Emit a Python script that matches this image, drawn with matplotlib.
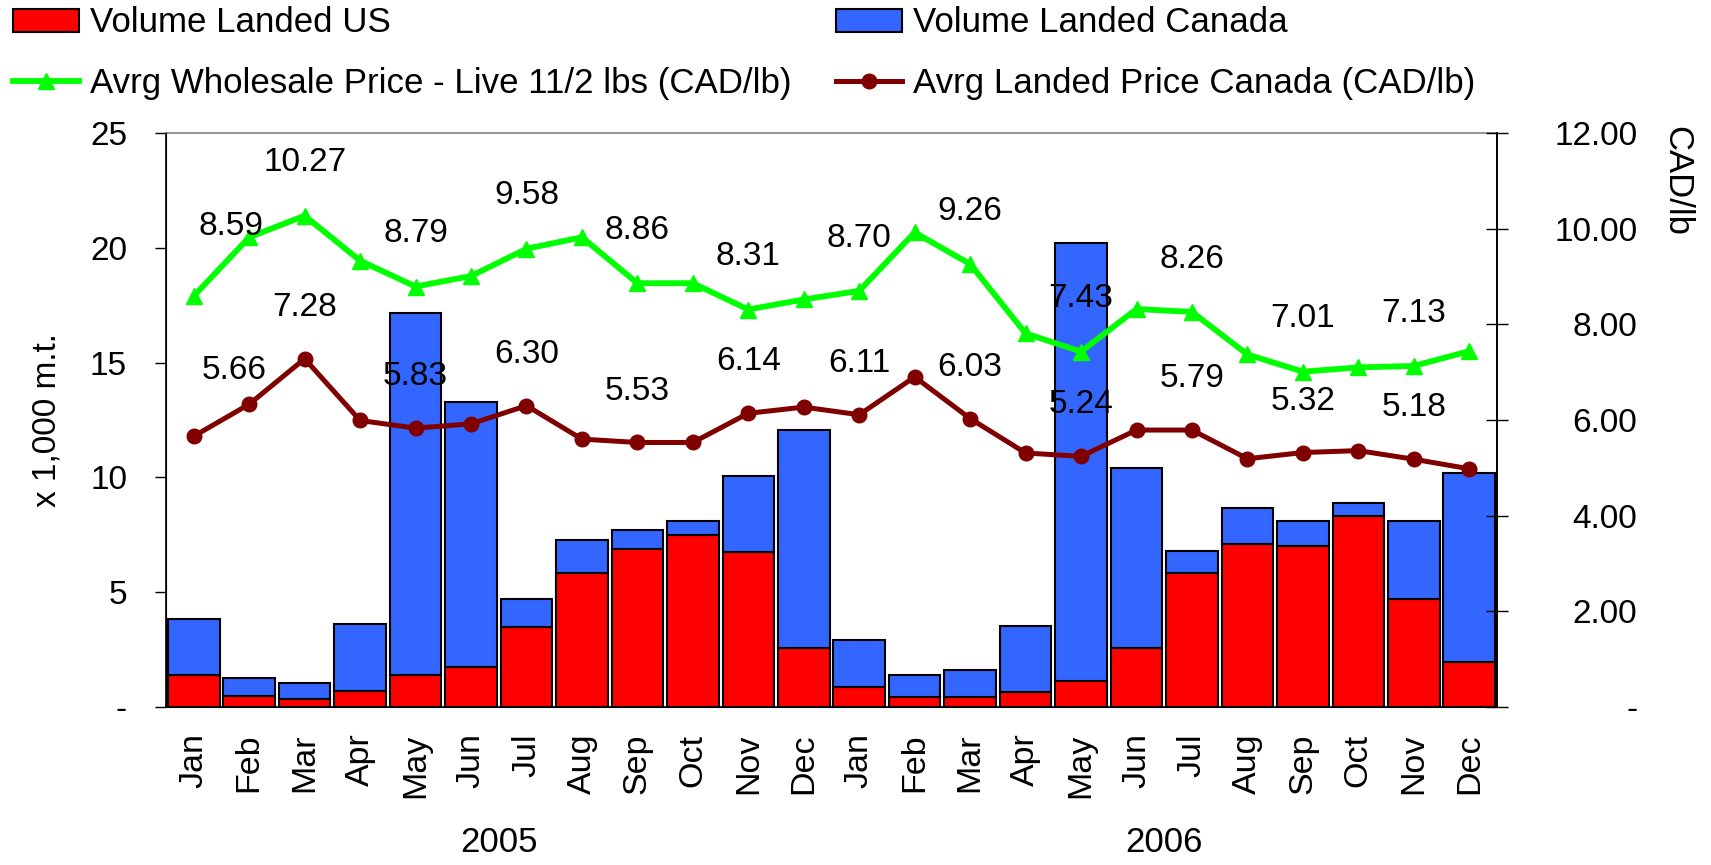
import matplotlib
matplotlib.use("Agg")
import matplotlib.pyplot as plt
from matplotlib.patches import Patch
from matplotlib.lines import Line2D
from matplotlib.transforms import blended_transform_factory
import numpy as np

plt.rcParams['font.family'] = ['Liberation Sans', 'DejaVu Sans']

months = ["Jan", "Feb", "Mar", "Apr", "May", "Jun", "Jul", "Aug", "Sep", "Oct", "Nov", "Dec"] * 2
years = ["2005", "2006"]

volume_us = [1.40, 0.47, 0.34, 0.70, 1.40, 1.75, 3.50, 5.85, 6.90, 7.48, 6.77, 2.58,
             0.89, 0.45, 0.45, 0.67, 1.13, 2.56, 5.83, 7.12, 7.00, 8.30, 4.69, 1.98]
volume_canada = [2.45, 0.81, 0.71, 2.92, 15.74, 11.52, 1.19, 1.42, 0.82, 0.61, 3.31, 9.50,
                 2.02, 0.93, 1.16, 2.84, 19.06, 7.86, 0.95, 1.54, 1.08, 0.60, 3.39, 8.19]
wholesale_price = [8.59, 9.82, 10.27, 9.33, 8.79, 9.01, 9.58, 9.82, 8.86, 8.86, 8.31, 8.52,
                   8.70, 9.92, 9.26, 7.81, 7.43, 8.32, 8.26, 7.37, 7.01, 7.10, 7.13, 7.44]
landed_price = [5.66, 6.33, 7.28, 5.99, 5.83, 5.92, 6.30, 5.60, 5.53, 5.53, 6.14, 6.27,
                6.11, 6.90, 6.03, 5.31, 5.24, 5.79, 5.79, 5.19, 5.32, 5.36, 5.18, 4.98]

vol_ticks = [0, 5, 10, 15, 20, 25]
vol_ticklabels = ["-", "5", "10", "15", "20", "25"]
price_ticks = [0, 2, 4, 6, 8, 10, 12]
price_ticklabels = ["-", "2.00", "4.00", "6.00", "8.00", "10.00", "12.00"]

RED = "#FF0000"
BLUE = "#3366FF"
GREEN = "#00FF00"
DARKRED = "#800000"

W, H = 1711, 865
fig = plt.figure(figsize=(W / 100, H / 100), dpi=100)
L, R, T, B = 166, 1497, 133, 707
ax = fig.add_axes([L / W, 1 - B / H, (R - L) / W, (B - T) / H])

x = np.arange(len(months))
ax.bar(x, volume_us, width=0.93, color=RED, edgecolor="black", linewidth=1.5, zorder=2)
ax.bar(x, volume_canada, width=0.93, bottom=volume_us, color=BLUE, edgecolor="black",
       linewidth=1.5, zorder=2)
ax.set_xlim(-0.5, len(months) - 0.5)
ax.set_ylim(0, 25)
ax.set_yticks(vol_ticks)
ax.set_yticklabels(vol_ticklabels, fontsize=24)
ax.tick_params(axis="y", direction="out", length=8, width=1, pad=20)
ax.set_xticks(x)
ax.set_xticklabels(months, rotation=90, fontsize=24.5)
ax.tick_params(axis="x", length=0, pad=19)
ax.set_ylabel("x 1,000 m.t.", fontsize=24)
ax.yaxis.set_label_coords(-0.078, 0.5)
for s in ["left", "bottom", "right"]:
    ax.spines[s].set_color("black")
    ax.spines[s].set_linewidth(1.2)
ax.spines["top"].set_color("#808080")
ax.spines["top"].set_linewidth(1.2)

ax2 = ax.twinx()
ax2.plot(x, wholesale_price, color=GREEN, linewidth=4.2, marker="^", markersize=12, zorder=3)
ax2.plot(x, landed_price, color=DARKRED, linewidth=3.6, marker="o", markersize=10.5, zorder=3)
ax2.set_ylim(0, 12)
ax2.set_yticks(price_ticks)
ax2.set_yticklabels(price_ticklabels, fontsize=24)
ax2.tick_params(axis="y", direction="inout", length=16, width=1, pad=93)
plt.setp(ax2.get_yticklabels(), ha="right")
ax2.spines["top"].set_visible(False)
ax2.spines["right"].set_color("black")
ax2.spines["right"].set_linewidth(1.2)

# data labels on every other month
for i in range(0, len(months), 2):
    off_g = (27, 50) if i == 0 else (0, 38)
    off_r = (29, 47) if i == 0 else (0, 37)
    ax2.annotate(f"{wholesale_price[i]:.2f}", (x[i], wholesale_price[i]), xytext=off_g,
                 textcoords="offset points", ha="center", va="center", fontsize=24, zorder=5)
    ax2.annotate(f"{landed_price[i]:.2f}", (x[i], landed_price[i]), xytext=off_r,
                 textcoords="offset points", ha="center", va="center", fontsize=24, zorder=5)

fig.text(1677 / W, 1 - 126 / H, "CAD/lb", rotation=-90, ha="center", va="top", fontsize=25)

trans = blended_transform_factory(ax.transData, fig.transFigure)
for k, yr in enumerate(years):
    ax.text(5.5 + 12 * k, 1 - 843 / H, yr, transform=trans, ha="center", va="center", fontsize=25)

handles = [
    Patch(facecolor=RED, edgecolor="black", linewidth=1.5, label="Volume Landed US"),
    Line2D([], [], color=GREEN, linewidth=4.2, marker="^", markersize=12,
           label="Avrg Wholesale Price - Live 11/2 lbs (CAD/lb)"),
    Patch(facecolor=BLUE, edgecolor="black", linewidth=1.5, label="Volume Landed Canada"),
    Line2D([], [], color=DARKRED, linewidth=3.6, marker="o", markersize=10.5,
           label="Avrg Landed Price Canada (CAD/lb)"),
]
fig.legend(handles=handles, loc="upper left", bbox_to_anchor=(13 / W, 1 - 6.5 / H), ncol=2,
           frameon=False, fontsize=25.1, borderpad=0, borderaxespad=0, handlelength=1.9,
           handleheight=0.66, handletextpad=0.3, columnspacing=1.28, labelspacing=0.78)

fig.savefig("out.png", dpi=100)
